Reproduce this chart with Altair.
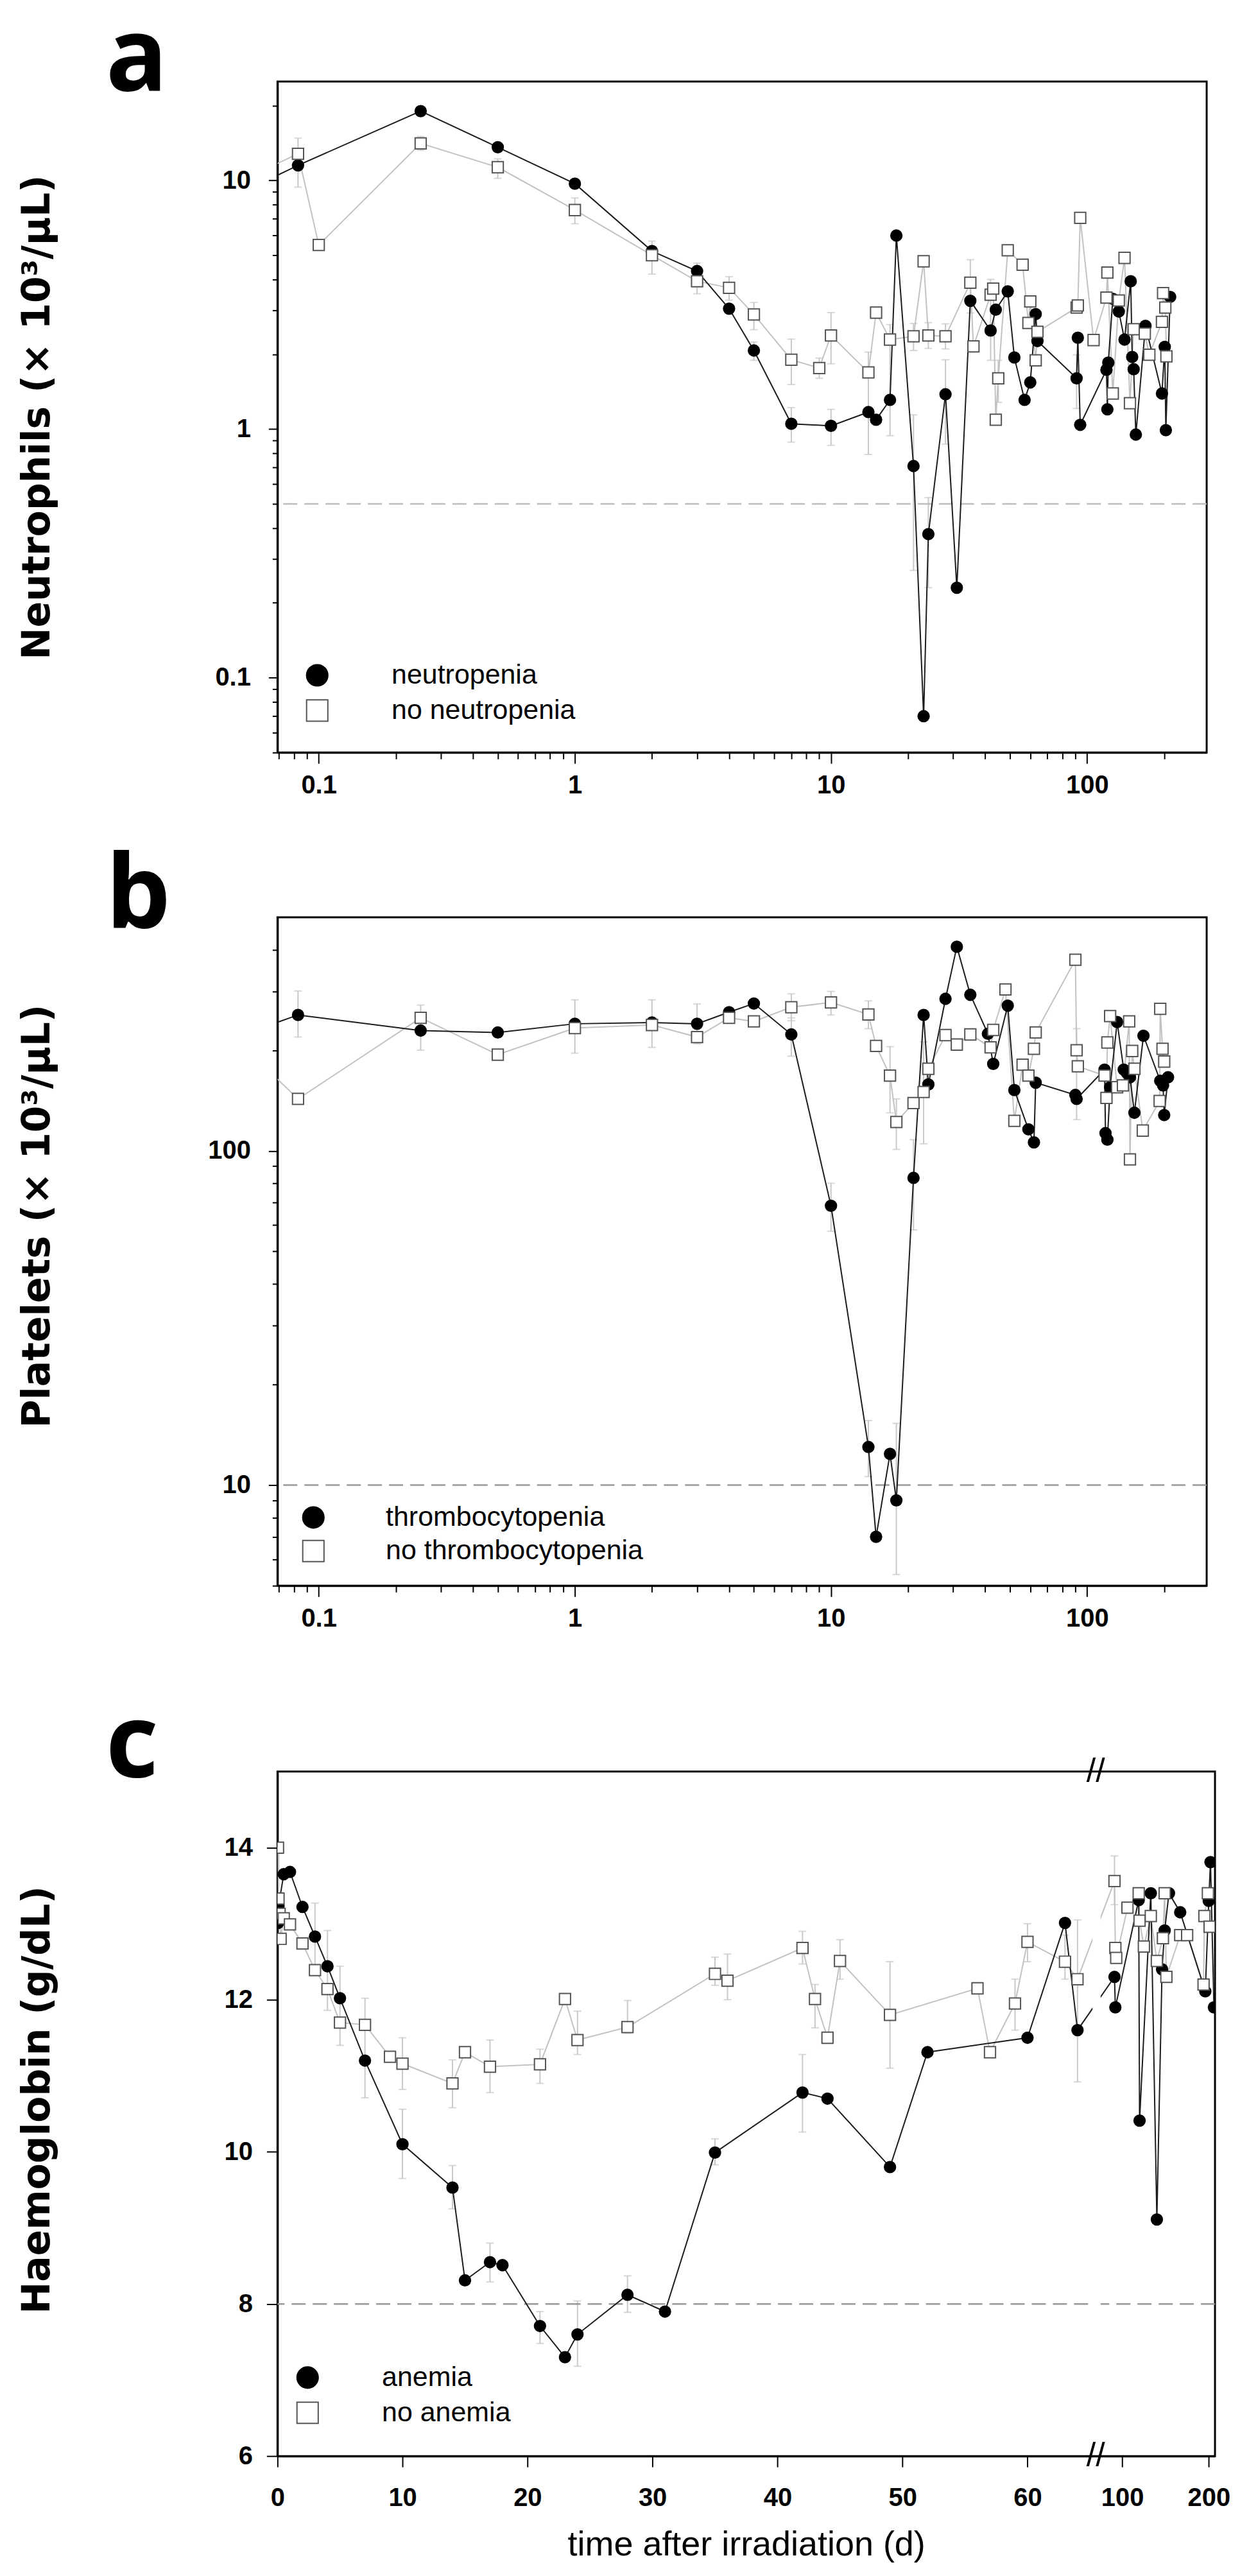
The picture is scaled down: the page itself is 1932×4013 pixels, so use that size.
import altair as alt
import pandas as pd
import numpy as np

# ---------------- Panel a : neutrophils (x10^3/uL) ----------------
A_LABELS = ["neutropenia", "no neutropenia"]
A_NEU_T = [0.042, 0.083, 0.25, 0.5, 1, 2, 3, 4, 5, 7, 10, 14, 15, 17, 18, 21, 23, 24, 28, 31, 35, 42, 44, 49, 52,
           57, 60, 63, 64, 91, 92, 94, 119, 120, 121, 126, 133, 140, 148, 150, 152, 155, 169, 196, 201, 203, 211]
A_NEU_V = [8.2, 11.5, 19.0, 13.6, 9.7, 5.2, 4.32, 3.05, 2.07, 1.05, 1.03, 1.17, 1.09, 1.31, 6.0, 0.71, 0.070, 0.378,
           1.38, 0.23, 3.28, 2.49, 3.02, 3.58, 1.94, 1.31, 1.54, 2.9, 2.26, 1.6, 2.33, 1.04, 1.73, 1.2, 1.85, 3.34,
           2.97, 2.29, 3.93, 1.95, 1.74, 0.95, 2.6, 1.39, 2.14, 0.99, 3.4]
A_NEU_ERR_T = [5, 7, 10, 21, 24, 28, 42, 91]
A_NEU_ERR_LO = [1.89, 0.886, 0.86, 0.27, 0.23, 0.87, 1.89, 1.21]
A_NEU_ERR_HI = [2.24, 1.22, 1.2, 1.14, 0.53, 1.9, 4.0, 1.99]

A_NO_T = [0.042, 0.083, 0.1, 0.25, 0.5, 1, 2, 3, 4, 5, 7, 9, 10, 14, 15, 17, 21, 23, 24, 28, 35, 36, 42, 43, 44,
          45, 49, 56, 59, 60, 63, 64, 91, 92, 94, 106, 119, 120, 126, 133, 140, 147, 152, 168, 175, 196, 198, 202, 204]
A_NO_V = [9.2, 12.8, 5.5, 14.1, 11.3, 7.6, 5.0, 3.93, 3.70, 2.89, 1.90, 1.76, 2.38, 1.69, 2.94, 2.29, 2.36, 4.73,
          2.38, 2.36, 3.88, 2.15, 3.47, 3.67, 1.09, 1.6, 5.24, 4.58, 2.67, 3.26, 1.89, 2.46, 3.08, 3.14, 7.07, 2.28,
          3.38, 4.26, 1.39, 3.29, 4.88, 1.27, 2.52, 2.42, 1.99, 2.7, 3.52, 3.08, 1.96]
A_NO_ERR_T = [0.083, 0.25, 0.5, 1, 2, 3, 4, 5, 7, 9, 10, 14, 17, 21, 24, 28, 35, 45]
A_NO_ERR_LO = [9.4, 13.2, 10.2, 6.7, 4.2, 3.5, 3.3, 2.51, 1.51, 1.6, 1.83, 0.79, 0.94, 2.07, 2.11, 2.1, 2.93, 1.28]
A_NO_ERR_HI = [14.8, 15.0, 12.2, 8.5, 5.7, 4.65, 4.1, 3.23, 2.3, 1.93, 2.94, 2.04, 2.63, 2.66, 2.68, 2.65, 4.8, 1.89]
A_THRESHOLD = 0.5

# ---------------- Panel b : platelets (x10^3/uL) ----------------
B_LABELS = ["thrombocytopenia", "no thrombocytopenia"]
B_THR_T = [0.042, 0.083, 0.25, 0.5, 1, 2, 3, 4, 5, 7, 10, 14, 15, 17, 18, 21, 23, 24, 28, 31, 35, 41, 43, 49, 52,
           59, 62, 63, 90, 91, 117, 118, 120, 123, 131, 139, 143, 147, 153, 166, 193, 198, 200, 207]
B_THR_V = [212, 255, 229, 226, 240, 242, 240, 260, 276, 223, 68.5, 13.0, 7.0, 12.4, 9.0, 83, 255, 158, 285, 408,
           293, 224, 182, 272, 152, 116, 106, 160, 147, 143, 175, 113, 108, 155, 243, 175, 171, 166, 130, 221, 162,
           157, 128, 166]
B_THR_ERR_T = [0.083, 0.25, 7, 10, 14, 18, 21]
B_THR_ERR_LO = [219, 200, 192, 57.5, 10.6, 5.4, 58]
B_THR_ERR_HI = [301, 273, 250, 80, 15.6, 15.3, 108]

B_NO_T = [0.042, 0.083, 0.25, 0.5, 1, 2, 3, 4, 5, 7, 10, 14, 15, 17, 18, 21, 23, 24, 28, 31, 35, 42, 43, 48, 52,
          56, 59, 62, 63, 90, 91, 92, 117, 119, 120, 123, 131, 138, 146, 147, 150, 153, 165, 192, 193, 197, 200]
B_NO_V = [236, 143, 250, 194, 233, 238, 219, 250, 244, 269, 278, 256, 206, 168, 122, 139, 150, 176, 222, 208, 223,
          204, 230, 304, 123, 181, 168, 202, 226, 373, 200, 179, 168, 144, 211, 253, 155, 157, 244, 94.3, 199, 176,
          115, 141, 266, 202, 185]
B_NO_ERR_T = [1, 2, 3, 7, 10, 14, 17, 18, 23, 91]
B_NO_ERR_LO = [196, 204, 209, 245, 255, 232, 130, 101, 105, 124]
B_NO_ERR_HI = [283, 283, 275, 295, 300, 281, 205, 143, 212, 232]
B_THRESHOLD = 10

# ---------------- Panel c : haemoglobin (g/dL) ----------------
C_LABELS = ["anemia", "no anemia"]
C_AN_T = [0.042, 0.083, 0.5, 1, 2, 3, 4, 5, 7, 10, 14, 15, 17, 18, 21, 23, 24, 28, 31, 35, 42, 44, 49, 52, 60,
          63, 64, 91, 92, 119, 120, 133, 140, 146, 149, 154, 167, 196, 200, 202, 206]
C_AN_V = [13.01, 13.23, 13.65, 13.68, 13.22, 12.83, 12.44, 12.02, 11.20, 10.10, 9.53, 8.31, 8.55, 8.51, 7.71, 7.30,
          7.60, 8.12, 7.90, 9.99, 10.78, 10.70, 9.80, 11.31, 11.50, 13.01, 11.60, 12.30, 11.90, 13.31, 10.41, 13.40,
          9.11, 12.40, 12.91, 13.40, 13.15, 12.11, 13.30, 13.81, 11.9]
C_AN_ERR_T = [3, 4, 5, 7, 10, 14, 17, 21, 24, 28, 35, 42, 64]
C_AN_ERR_LO = [12.43, 11.86, 11.4, 10.71, 9.65, 9.25, 8.29, 7.48, 7.18, 7.89, 9.83, 10.26, 10.92]
C_AN_ERR_HI = [13.27, 12.91, 12.44, 12.02, 10.56, 9.82, 8.8, 7.9, 8.04, 8.37, 10.17, 11.28, 13.05]

C_NO_T = [0.042, 0.083, 0.17, 0.25, 0.5, 1, 2, 3, 4, 5, 7, 9, 10, 14, 15, 17, 21, 23, 24, 28, 35, 36, 42, 43, 44,
          45, 49, 56, 57, 59, 60, 63, 64, 91, 92, 93, 106, 119, 120, 125, 133, 140, 147, 149, 151, 167, 175, 194,
          195, 199, 201]
C_NO_V = [14.0, 13.33, 13.13, 12.8, 13.07, 12.99, 12.74, 12.39, 12.14, 11.70, 11.67, 11.25, 11.16, 10.90, 11.31,
          11.12, 11.15, 12.01, 11.47, 11.64, 12.34, 12.25, 12.68, 12.01, 11.50, 12.51, 11.80, 12.15, 11.31, 11.95,
          12.76, 12.50, 12.27, 13.56, 12.68, 12.55, 13.21, 13.40, 13.04, 12.70, 13.10, 12.51, 12.81, 13.40, 12.30,
          12.85, 12.85, 12.20, 13.10, 13.40, 12.96]
C_NO_ERR_T = [10, 14, 17, 21, 24, 28, 35, 36, 42, 43, 45, 49, 59, 60, 63, 91]
C_NO_ERR_LO = [10.82, 10.58, 10.78, 10.9, 11.28, 11.56, 12.19, 12.0, 12.47, 11.63, 12.27, 11.1, 11.6, 12.5, 12.27, 13.25]
C_NO_ERR_HI = [11.5, 11.21, 11.47, 11.35, 11.85, 11.99, 12.56, 12.6, 12.9, 12.2, 12.79, 12.5, 12.27, 13.0, 12.85, 13.89]
C_THRESHOLD = 8

C_X_TICKS = [0, 10, 20, 30, 40, 50, 60, 100, 200]


# broken time axis of panel c: 0-65 d linear, then a compressed segment for ~76-207 d
def brk(t):
    t = np.asarray(t, dtype=float)
    return np.where(t < 70, t, 67.582 + 0.06918 * (t - 100.0))


# ---------------- styling ----------------
BLACK_LINE = "#1c1c1c"
GRAY_LINE = "#c2c2c2"
ERR_COLOR = "#c8c8c8"
SQ_STROKE = "#555555"
MAJ = "abs(log(datum.value)/LN10 - round(log(datum.value)/LN10)) < 0.001"
TITLE_FONT = "DejaVu Sans"
TICK_FONT = "Liberation Sans"


def cond(major, minor):
    return {"condition": {"test": MAJ, "value": major}, "value": minor}


def decade_values(lo_val, lo_exp, hi_val):
    vals = []
    for e in range(lo_exp, 4):
        for m in range(1, 10):
            v = round(m * 10.0 ** e, 6)
            if lo_val <= v <= hi_val:
                vals.append(v)
    return vals


def series_df(t, v, label, xfun=None):
    df = pd.DataFrame({"t": t, "v": v, "series": label})
    df["xp"] = xfun(df["t"]) if xfun is not None else df["t"]
    return df


def err_df(t, lo, hi, xfun=None):
    df = pd.DataFrame({"t": t, "lo": lo, "hi": hi})
    df["xp"] = xfun(df["t"]) if xfun is not None else df["t"]
    return df


def panel(labels, d1, d2, e1, e2, xscale, yscale, xaxis, yaxis, thr, thr_color, leg, letter, letter_dy,
          width, height, extra=None):
    pts = pd.concat([d1, d2], ignore_index=True)
    errs = pd.concat([e1, e2], ignore_index=True)

    def X(field="xp:Q"):
        return alt.X(field, scale=xscale, axis=xaxis)

    def Y(field):
        return alt.Y(field, scale=yscale, axis=yaxis)

    layers = [
        alt.Chart(errs).mark_errorbar(ticks=True, color=ERR_COLOR, thickness=2, size=12, clip=True).encode(
            x=X(), y=Y("lo:Q"), y2="hi:Q"),
        alt.Chart(pd.DataFrame({"thr": [thr]})).mark_rule(color=thr_color, strokeDash=[22, 11],
                                                          strokeWidth=2.5).encode(y=Y("thr:Q")),
        alt.Chart(d2).mark_line(color=GRAY_LINE, strokeWidth=2, clip=True).encode(x=X(), y=Y("v:Q"), order="t:Q"),
        alt.Chart(d1).mark_line(color=BLACK_LINE, strokeWidth=2, clip=True).encode(x=X(), y=Y("v:Q"), order="t:Q"),
    ]
    if extra is not None:
        layers.extend([f(X, Y) for f in extra])
    dom = labels
    layers.append(
        alt.Chart(pts).mark_point(filled=True, size=300, strokeWidth=2, opacity=1, clip=True).encode(
            x=X(), y=Y("v:Q"),
            shape=alt.Shape("series:N", scale=alt.Scale(domain=dom, range=["circle", "square"]), legend=leg),
            fill=alt.Fill("series:N", scale=alt.Scale(domain=dom, range=["black", "white"]), legend=leg),
            stroke=alt.Stroke("series:N", scale=alt.Scale(domain=dom, range=["black", SQ_STROKE]), legend=leg),
        )
    )
    # panel letter, placed left of the plot with its baseline near the top of the frame
    layers.append(
        alt.Chart(pd.DataFrame({"letter": [letter]})).mark_text(
            fontSize=160, font="Open Sans", fontWeight="bold", color="black", align="left",
            baseline="alphabetic").encode(text="letter:N", x=alt.value(-268), y=alt.value(letter_dy))
    )
    return alt.layer(*layers).properties(width=width, height=height)


def legend(x, y, row_pad, label_offset):
    return alt.Legend(title=None, orient="none", legendX=x, legendY=y, symbolSize=1100, symbolStrokeWidth=2,
                      labelFont=TICK_FONT, labelFontSize=43, labelColor="black", labelOffset=label_offset,
                      rowPadding=row_pad, padding=0, labelLimit=0)


XLOG_VALUES = decade_values(0.07, -2, 200)
X_DOMAIN = [0.069, 293]


def log_x_axis(extra_title=False):
    kw = dict(values=XLOG_VALUES, labelExpr=f"{MAJ} ? format(datum.value, '~g') : ''",
              tickSize=cond(17, 10), labelPadding=14, labelOverlap=False, labelFlush=False,
              labelFont=TICK_FONT, labelFontSize=40, labelFontWeight="bold")
    if extra_title:
        kw.update(title=".", titleColor="white", titleFontSize=18, titlePadding=6)
    else:
        kw.update(title=None)
    return alt.Axis(**kw)


def log_y_axis(values, title, title_y=None):
    kw = dict(values=values, labelExpr=f"{MAJ} ? format(datum.value, '~g') : ''",
              tickSize=cond(14, 8), labelPadding=28, labelOverlap=False, labelFlush=False,
              labelFont=TICK_FONT, labelFontSize=40, labelFontWeight="bold", title=title,
              titleFont=TITLE_FONT, titleFontWeight="bold", titleFontSize=60, titleX=-374,
              titleBaseline="middle")
    if title_y is not None:
        kw["titleY"] = title_y
    return alt.Axis(**kw)


# ---- panel a
a_d1 = series_df(A_NEU_T, A_NEU_V, A_LABELS[0])
a_d2 = series_df(A_NO_T, A_NO_V, A_LABELS[1])
a_e1 = err_df(A_NEU_ERR_T, A_NEU_ERR_LO, A_NEU_ERR_HI)
a_e2 = err_df(A_NO_ERR_T, A_NO_ERR_LO, A_NO_ERR_HI)
chart_a = panel(
    A_LABELS, a_d1, a_d2, a_e1, a_e2,
    alt.Scale(type="log", domain=X_DOMAIN, nice=False),
    alt.Scale(type="log", domain=[0.05, 25], nice=False),
    log_x_axis(),
    log_y_axis(decade_values(0.05, -2, 20), "Neutrophils (× 10³/µL)"),
    A_THRESHOLD, "#bdbdbd", legend(40.5, 905, 11, 94.5), "a", 14, 1450, 1047)

# ---- panel b
b_d1 = series_df(B_THR_T, B_THR_V, B_LABELS[0])
b_d2 = series_df(B_NO_T, B_NO_V, B_LABELS[1])
b_e1 = err_df(B_THR_ERR_T, B_THR_ERR_LO, B_THR_ERR_HI)
b_e2 = err_df(B_NO_ERR_T, B_NO_ERR_LO, B_NO_ERR_HI)
chart_b = panel(
    B_LABELS, b_d1, b_d2, b_e1, b_e2,
    alt.Scale(type="log", domain=X_DOMAIN, nice=False),
    alt.Scale(type="log", domain=[5, 500], nice=False),
    log_x_axis(extra_title=True),
    log_y_axis(decade_values(5, 0, 400), "Platelets (× 10³/µL)", title_y=466),
    B_THRESHOLD, "#999999", legend(34.5, 915, 8.4, 91.5), "b", 17, 1450, 1043)

# ---- panel c (broken x axis)
c_d1 = series_df(C_AN_T, C_AN_V, C_LABELS[0], brk)
c_d2 = series_df(C_NO_T, C_NO_V, C_LABELS[1], brk)
c_e1 = err_df(C_AN_ERR_T, C_AN_ERR_LO, C_AN_ERR_HI, brk)
c_e2 = err_df(C_NO_ERR_T, C_NO_ERR_LO, C_NO_ERR_HI, brk)
c_xscale = alt.Scale(domain=[0, 75], nice=False, zero=False)
c_yscale = alt.Scale(domain=[6, 15], nice=False, zero=False)
c_ticks = [float(v) for v in brk(C_X_TICKS)]
c_xaxis = alt.Axis(values=c_ticks,
                   labelExpr="datum.value > 71 ? '200' : (datum.value > 65 ? '100' : format(datum.value, 'd'))",
                   tickSize=17, labelPadding=28, labelOverlap=False, labelFlush=False,
                   labelFont=TICK_FONT, labelFontSize=40, labelFontWeight="bold",
                   title="time after irradiation (d)", titleFont=TICK_FONT, titleFontWeight="normal",
                   titleFontSize=54, titleY=155, titleBaseline="alphabetic")
c_yaxis = alt.Axis(values=[6, 8, 10, 12, 14], format="d", tickSize=17, labelPadding=22,
                   labelFont=TICK_FONT, labelFontSize=40, labelFontWeight="bold",
                   title="Haemoglobin (g/dL)", titleFont=TITLE_FONT, titleFontWeight="bold", titleFontSize=60,
                   titleX=-374, titleY=512, titleBaseline="middle")

GAP = pd.DataFrame({"xp": [65.2], "x2": [65.85], "v": [6.06], "y2": [14.94]})
BREAK_MARKS = pd.DataFrame({"xp": [65.46, 65.46], "v": [15.0, 6.0]})


def gap_layer(X, Y):
    return alt.Chart(GAP).mark_rect(fill="white").encode(x=X(), x2="x2:Q", y=Y("v:Q"), y2="y2:Q")


def break_layer(X, Y):
    return alt.Chart(BREAK_MARKS).mark_text(text="//", fontSize=52, font=TICK_FONT, color="black",
                                            baseline="middle", align="center").encode(x=X(), y=Y("v:Q"))


chart_c = panel(
    C_LABELS, c_d1, c_d2, c_e1, c_e2, c_xscale, c_yscale, c_xaxis, c_yaxis,
    C_THRESHOLD, "#999999", legend(25.5, 924, 11, 94.5), "c", 8, 1463, 1068,
    extra=[gap_layer, break_layer])

chart = alt.vconcat(chart_a, chart_b, chart_c, spacing=71).resolve_scale(
    shape="independent", fill="independent", stroke="independent"
).resolve_legend(
    shape="independent", fill="independent", stroke="independent"
).properties(
    padding={"left": 19, "top": 0, "right": 5, "bottom": 5}, background="white"
).configure_axis(
    labelColor="black", tickColor="black", tickWidth=2, domainColor="black", domainWidth=3, grid=False,
    titleColor="black"
).configure_view(stroke="black", strokeWidth=3)

chart.save("out.html", embed_options={"renderer": "svg", "actions": False})
